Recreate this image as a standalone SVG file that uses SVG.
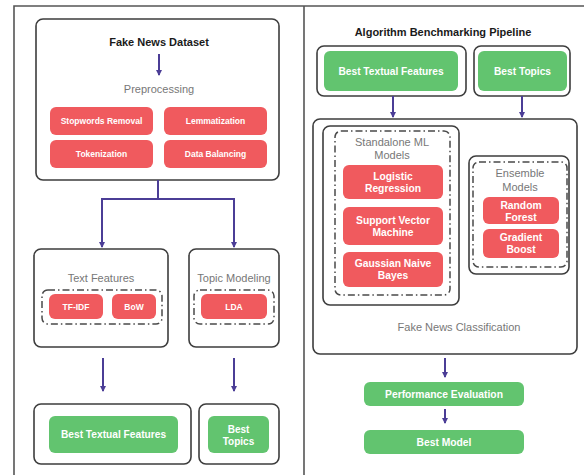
<svg xmlns="http://www.w3.org/2000/svg" width="584" height="475" viewBox="0 0 584 475">
<style>
.box{fill:#fff;stroke:#3d3d3d;stroke-width:1.6}
.dash{fill:none;stroke:#4a4a4a;stroke-width:1.5;stroke-dasharray:7 3 1.5 3}
.red{fill:#f05a5e}
.green{fill:#62c46f}
.wt{font-family:"Liberation Sans",Arial,sans-serif;font-weight:bold;fill:#fff;text-anchor:middle}
.gt{font-family:"Liberation Sans",Arial,sans-serif;fill:#777;text-anchor:middle;font-size:11px}
.bt{font-family:"Liberation Sans",Arial,sans-serif;font-weight:bold;fill:#1a1a1a;text-anchor:middle;font-size:11px}
.conn{fill:none;stroke:#4b3d96;stroke-width:2}
</style>
<defs>
<marker id="ah" viewBox="0 0 6 6" refX="5" refY="3" markerWidth="3" markerHeight="3" orient="auto" markerUnits="strokeWidth">
<path d="M0,0 L6,3 L0,6 z" fill="#4b3d96"/>
</marker>
</defs>
<rect width="584" height="475" fill="#fff"/>
<g id="frame">
<path d="M14,475 V6 H584 M304,6 V475" fill="none" stroke="#555" stroke-width="1.6"/>
</g>

<g id="dataset">
<rect class="box" x="36" y="19" width="243" height="161" rx="7"/>
<text class="bt" x="159" y="46">Fake News Dataset</text>
<text class="gt" x="159" y="93">Preprocessing</text>
</g>
<g id="stopwords"><rect class="red" x="50" y="107" width="103" height="28" rx="6"/><text class="wt" font-size="8.5" x="101.5" y="124">Stopwords Removal</text></g>
<g id="lemmatization"><rect class="red" x="164" y="107" width="103" height="28" rx="6"/><text class="wt" font-size="8.5" x="215.5" y="124">Lemmatization</text></g>
<g id="tokenization"><rect class="red" x="50" y="140" width="103" height="28" rx="6"/><text class="wt" font-size="8.5" x="101.5" y="157">Tokenization</text></g>
<g id="balancing"><rect class="red" x="164" y="140" width="103" height="28" rx="6"/><text class="wt" font-size="8.5" x="215.5" y="157">Data Balancing</text></g>

<g id="textfeatures">
<rect class="box" x="34" y="249" width="134" height="98" rx="7"/>
<text class="gt" x="101" y="282">Text Features</text>
<rect class="dash" x="42" y="290" width="120" height="34" rx="6"/>
</g>
<g id="tfidf"><rect class="red" x="49" y="294" width="54" height="25" rx="6"/><text class="wt" font-size="8.5" x="76" y="309.5">TF-IDF</text></g>
<g id="bow"><rect class="red" x="112" y="294" width="44" height="25" rx="6"/><text class="wt" font-size="8.5" x="134" y="309.5">BoW</text></g>

<g id="topicmodeling">
<rect class="box" x="189" y="249" width="90" height="98" rx="7"/>
<text class="gt" x="234" y="282" font-size="10.7">Topic Modeling</text>
<rect class="dash" x="194" y="290" width="80" height="34" rx="6"/>
</g>
<g id="lda"><rect class="red" x="201" y="294" width="66" height="25" rx="6"/><text class="wt" font-size="8.5" x="234" y="309.5">LDA</text></g>

<g id="besttextual-left">
<rect class="box" x="34" y="404" width="157" height="60" rx="7"/>
<rect class="green" x="49" y="416" width="129" height="37" rx="6"/>
<text class="wt" font-size="10.2" x="113.5" y="438">Best Textual Features</text>
</g>
<g id="besttopics-left">
<rect class="box" x="199" y="404" width="80" height="60" rx="7"/>
<rect class="green" x="208" y="416" width="61" height="37" rx="6"/>
<text class="wt" font-size="10" x="238.5" y="432.5">Best</text>
<text class="wt" font-size="10" x="238.5" y="444.5">Topics</text>
</g>

<g id="pipeline-title">
<text class="bt" x="443" y="35.5" font-size="10.5">Algorithm Benchmarking Pipeline</text>
</g>
<g id="besttextual-right">
<rect class="box" x="317" y="46" width="149" height="50" rx="7"/>
<rect class="green" x="324" y="51" width="134" height="40" rx="6"/>
<text class="wt" font-size="10.2" x="391" y="74.5">Best Textual Features</text>
</g>
<g id="besttopics-right">
<rect class="box" x="474" y="46" width="96" height="50" rx="7"/>
<rect class="green" x="478" y="51" width="89" height="40" rx="6"/>
<text class="wt" font-size="10.2" x="522.5" y="74.5">Best Topics</text>
</g>

<g id="classification">
<rect class="box" x="313" y="119" width="264" height="235" rx="7"/>
<text class="gt" x="459" y="331" font-size="10.7">Fake News Classification</text>
</g>
<g id="standalone">
<rect class="box" x="323" y="126" width="136" height="179" rx="7"/>
<rect class="dash" x="335" y="131" width="115" height="164" rx="6"/>
<text class="gt" x="392" y="146">Standalone ML</text>
<text class="gt" x="392" y="159">Models</text>
</g>
<g id="logistic"><rect class="red" x="343" y="165" width="100" height="34" rx="6"/><text class="wt" font-size="10.3" x="393" y="179.5">Logistic</text><text class="wt" font-size="10.3" x="393" y="192">Regression</text></g>
<g id="svm"><rect class="red" x="343" y="207" width="100" height="38" rx="6"/><text class="wt" font-size="10.3" x="393" y="223.5">Support Vector</text><text class="wt" font-size="10.3" x="393" y="236">Machine</text></g>
<g id="gnb"><rect class="red" x="343" y="252" width="100" height="35" rx="6"/><text class="wt" font-size="10.3" x="393" y="266.5">Gaussian Naive</text><text class="wt" font-size="10.3" x="393" y="279">Bayes</text></g>

<g id="ensemble">
<rect class="box" x="469" y="156" width="100" height="118" rx="7"/>
<rect class="dash" x="473" y="162" width="94" height="105" rx="6"/>
<text class="gt" x="520" y="177">Ensemble</text>
<text class="gt" x="520" y="191">Models</text>
</g>
<g id="randomforest"><rect class="red" x="483" y="197" width="76" height="27" rx="6"/><text class="wt" font-size="10.3" x="521" y="208.5">Random</text><text class="wt" font-size="10.3" x="521" y="220.5">Forest</text></g>
<g id="gradientboost"><rect class="red" x="483" y="229" width="76" height="29" rx="6"/><text class="wt" font-size="10.3" x="521" y="240.5">Gradient</text><text class="wt" font-size="10.3" x="521" y="253">Boost</text></g>

<g id="performance"><rect class="green" x="364" y="382" width="160" height="24" rx="6"/><text class="wt" font-size="10.3" x="444" y="397.5">Performance Evaluation</text></g>
<g id="bestmodel"><rect class="green" x="364" y="430" width="160" height="24" rx="6"/><text class="wt" font-size="10.3" x="444" y="445.5">Best Model</text></g>

<g id="connectors">
<path class="conn" d="M159,54 V75" marker-end="url(#ah)"/>
<path class="conn" d="M158,180 V199 H102 V247" marker-end="url(#ah)"/>
<path class="conn" d="M158,199 H234 V247" marker-end="url(#ah)"/>
<path class="conn" d="M103,358 V391" marker-end="url(#ah)"/>
<path class="conn" d="M234,358 V391" marker-end="url(#ah)"/>
<path class="conn" d="M393,96 V117" marker-end="url(#ah)"/>
<path class="conn" d="M522,96 V117" marker-end="url(#ah)"/>
<path class="conn" d="M445,358 V377" marker-end="url(#ah)"/>
<path class="conn" d="M445,409 V423" marker-end="url(#ah)"/>
</g>
</svg>
